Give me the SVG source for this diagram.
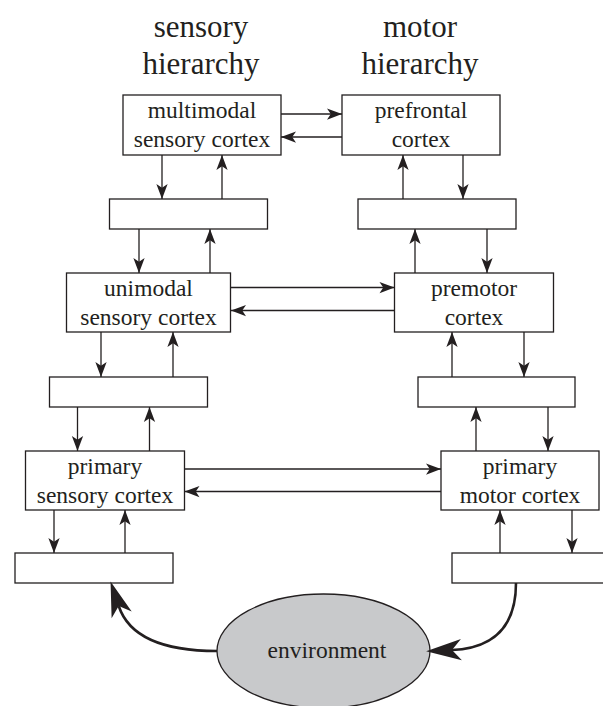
<svg xmlns="http://www.w3.org/2000/svg" width="603" height="706" viewBox="0 0 603 706">
<style>
.box{fill:#fff;stroke:#231f20;stroke-width:1.3}
.lbl{font-family:'Liberation Serif','DejaVu Serif',serif;font-size:23.5px;fill:#231f20;text-anchor:middle}
.ttl{font-family:'Liberation Serif','DejaVu Serif',serif;font-size:31px;fill:#231f20;text-anchor:middle}
.c{stroke:#231f20;stroke-width:1.3;fill:none;marker-end:url(#ah)}
.big{stroke:#231f20;stroke-width:2.6;fill:none;marker-end:url(#bh)}
</style>
<defs>
<marker id="ah" markerUnits="userSpaceOnUse" orient="auto" refX="0" refY="0" markerWidth="20" markerHeight="20" viewBox="-14 -6 16 12" overflow="visible">
<path d="M0,0 L-12,-4.5 L-9,0 L-12,4.5 Z" fill="#231f20"/>
</marker>
<marker id="bh" markerUnits="userSpaceOnUse" orient="auto" refX="0" refY="0" markerWidth="40" markerHeight="40" viewBox="-10 -10 34 20" overflow="visible">
<path d="M22,0 L-8,-9 L0,0 L-8,9 Z" fill="#231f20"/>
</marker>
</defs>
<g id="titles">
<text class="ttl" x="201" y="37">sensory</text>
<text class="ttl" x="201" y="73.5">hierarchy</text>
<text class="ttl" x="420" y="37">motor</text>
<text class="ttl" x="420" y="73.5">hierarchy</text>
</g>
<g id="multimodal"><rect class="box" x="123" y="95" width="158" height="60"/><text class="lbl" x="202" y="118">multimodal</text><text class="lbl" x="202" y="147">sensory cortex</text></g>
<g id="prefrontal"><rect class="box" x="342" y="95" width="158" height="60"/><text class="lbl" x="421" y="118">prefrontal</text><text class="lbl" x="421" y="147">cortex</text></g>
<g id="sL1"><rect class="box" x="109.5" y="199" width="158" height="30"/></g>
<g id="sR1"><rect class="box" x="358" y="199" width="158" height="30"/></g>
<g id="unimodal"><rect class="box" x="66.5" y="273" width="164" height="59"/><text class="lbl" x="148.5" y="296">unimodal</text><text class="lbl" x="148.5" y="325">sensory cortex</text></g>
<g id="premotor"><rect class="box" x="394.5" y="273" width="159" height="59"/><text class="lbl" x="474" y="296">premotor</text><text class="lbl" x="474" y="325">cortex</text></g>
<g id="sL2"><rect class="box" x="49.5" y="377" width="158" height="30"/></g>
<g id="sR2"><rect class="box" x="418" y="377" width="157" height="30"/></g>
<g id="primarySensory"><rect class="box" x="25.5" y="451" width="159" height="59"/><text class="lbl" x="105" y="474">primary</text><text class="lbl" x="105" y="503">sensory cortex</text></g>
<g id="primaryMotor"><rect class="box" x="441" y="451" width="158" height="59"/><text class="lbl" x="520" y="474">primary</text><text class="lbl" x="520" y="503">motor cortex</text></g>
<g id="sL3"><rect class="box" x="15" y="553" width="158" height="30"/></g>
<g id="sR3"><rect class="box" x="452" y="553" width="160" height="30"/></g>
<g id="environment"><ellipse cx="323.5" cy="651" rx="106.5" ry="57" fill="#c8c9cb" stroke="#231f20" stroke-width="1.3"/><text class="lbl" x="327" y="658">environment</text></g>
<g id="connectors">
<path class="c" d="M281,114 H342"/>
<path class="c" d="M342,137 H281"/>
<path class="c" d="M231,287.5 H394.5"/>
<path class="c" d="M394.5,310.5 H231"/>
<path class="c" d="M184.5,469 H441"/>
<path class="c" d="M441,491.5 H184.5"/>
<path class="c" d="M162,155 V199"/>
<path class="c" d="M222,199 V155"/>
<path class="c" d="M139,229 V273"/>
<path class="c" d="M210,273 V229"/>
<path class="c" d="M101,332 V377"/>
<path class="c" d="M173,377 V332"/>
<path class="c" d="M77.5,407 V451"/>
<path class="c" d="M149.5,451 V407"/>
<path class="c" d="M54,510 V553"/>
<path class="c" d="M125,553 V510"/>
<path class="c" d="M403,199 V155"/>
<path class="c" d="M463,155 V199"/>
<path class="c" d="M415,273 V229"/>
<path class="c" d="M487,229 V273"/>
<path class="c" d="M452,377 V332"/>
<path class="c" d="M524,332 V377"/>
<path class="c" d="M476,451 V407"/>
<path class="c" d="M548,407 V451"/>
<path class="c" d="M500,553 V510"/>
<path class="c" d="M572,510 V553"/>
<path class="big" d="M217,651 C168,651 130,640 118.7,606"/>
<path class="big" d="M516,583 C516,625 495,648 452,650"/>
</g>
</svg>
